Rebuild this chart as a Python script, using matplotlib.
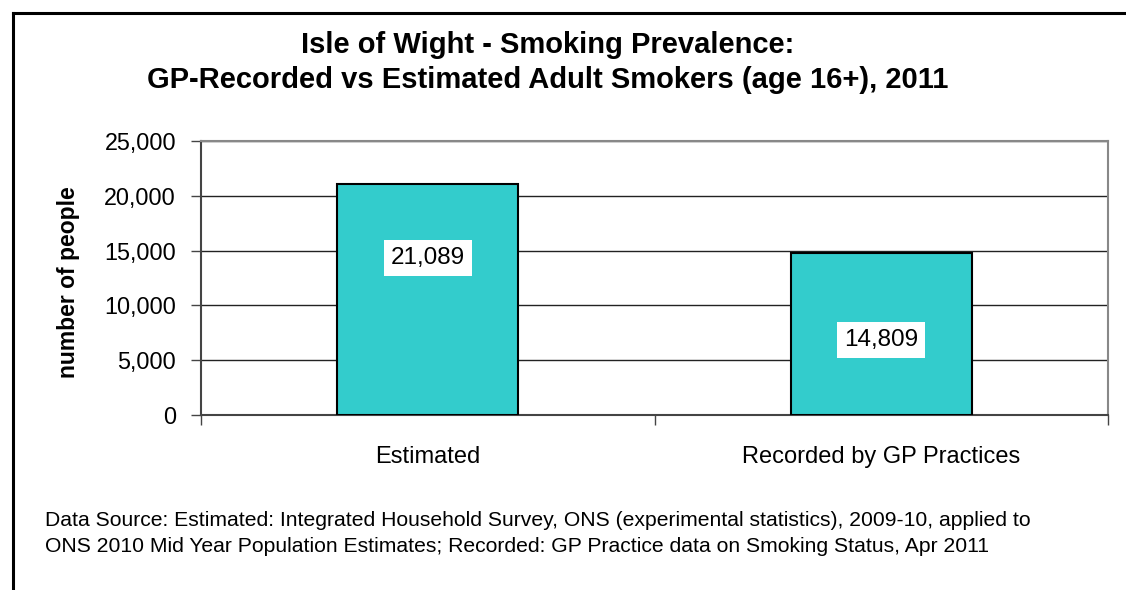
import numpy as np
import matplotlib.pyplot as plt
from matplotlib.lines import Line2D
from matplotlib.ticker import FuncFormatter

plt.rcParams['font.family'] = ['Liberation Sans', 'DejaVu Sans']

categories = ['Estimated', 'Recorded by GP Practices']
smokers = [21089, 14809]
# where Excel put the value boxes, as a share of the bar height
label_frac = [0.68, 0.46]
y_ticks = [0, 5000, 10000, 15000, 20000, 25000]

fig = plt.figure(figsize=(11.26, 5.9), dpi=100)
W, H = 1126, 590

ax = fig.add_axes([201 / W, 1 - 415 / H, 907 / W, 274 / H])
x = np.arange(len(categories))
ax.bar(x, smokers, width=0.4, color='#33CCCC', edgecolor='black', linewidth=1.5, zorder=3)

for xi, v, f in zip(x, smokers, label_frac):
    ax.text(xi, v * f, f'{v:,}', ha='center', va='center', fontsize=17.5, zorder=4,
            bbox=dict(facecolor='white', edgecolor='none', pad=5))

ax.set_xlim(-0.5, len(categories) - 0.5)
ax.set_ylim(0, 25000)
ax.set_yticks(y_ticks)
ax.yaxis.set_major_formatter(FuncFormatter(lambda v, p: f'{int(v):,}'))
ax.yaxis.grid(True, color='#222222', linewidth=1)
ax.set_axisbelow(True)

ax.set_xticks(x)
ax.set_xticklabels(categories, fontsize=17)
ax.set_xticks(np.arange(-0.5, len(categories)), minor=True)
ax.tick_params(axis='x', which='major', length=0, pad=22)
ax.tick_params(axis='x', which='minor', length=7, width=1, color='#444444', direction='out')
ax.tick_params(axis='y', length=7, width=1, color='#444444', labelsize=16.8, pad=11)

for s in ax.spines.values():
    s.set_color('#888888')
    s.set_linewidth(1.5)
ax.spines['left'].set_color('#444444')
ax.spines['bottom'].set_color('#444444')

fig.text(68 / W, 1 - 282 / H, 'number of people', rotation=90, ha='center', va='center',
         fontsize=16.5, fontweight='bold')

fig.text(548 / W, 1 - 45 / H, 'Isle of Wight - Smoking Prevalence:', ha='center', va='center',
         fontsize=21, fontweight='bold')
fig.text(548 / W, 1 - 80 / H, 'GP-Recorded vs Estimated Adult Smokers (age 16+), 2011',
         ha='center', va='center', fontsize=21, fontweight='bold')

fig.text(45 / W, 1 - 521 / H,
         'Data Source: Estimated: Integrated Household Survey, ONS (experimental statistics), 2009-10, applied to',
         ha='left', va='center', fontsize=15.2)
fig.text(45 / W, 1 - 547 / H,
         'ONS 2010 Mid Year Population Estimates; Recorded: GP Practice data on Smoking Status, Apr 2011',
         ha='left', va='center', fontsize=15.2)

# outer chart frame
fig.add_artist(Line2D([13 / W, 1], [1 - 13 / H, 1 - 13 / H], color='black', linewidth=2.2))
fig.add_artist(Line2D([13 / W, 13 / W], [0, 1 - 13 / H], color='black', linewidth=2.2))

fig.savefig('out.png', dpi=100)
